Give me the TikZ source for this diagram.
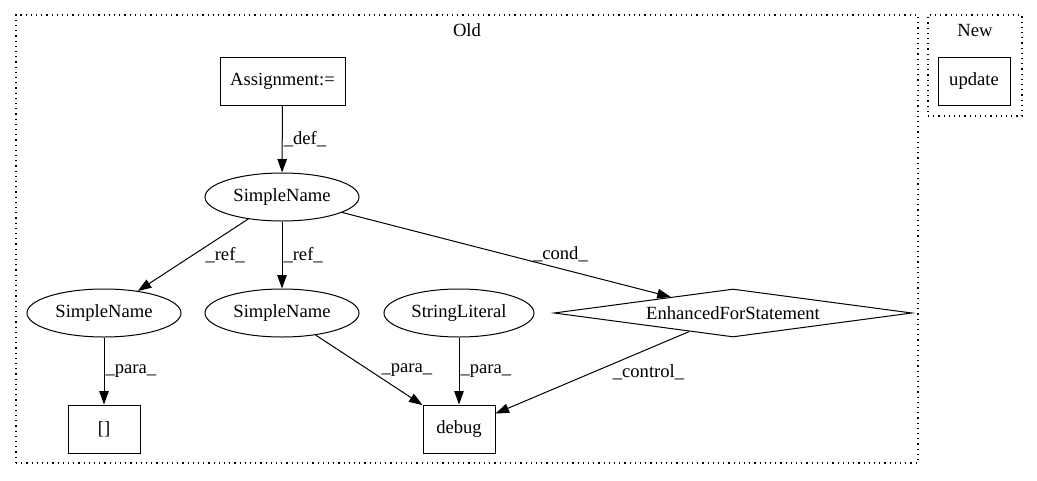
\documentclass[tikz,border=0pt]{standalone}
\usepackage{fontspec}
\setmainfont{Liberation Serif}
\usetikzlibrary{shapes.geometric,arrows.meta}
\begin{document}
\begin{tikzpicture}[x=1pt,y=-1pt,
  every node/.style={font=\fontsize{18.6}{22}\selectfont},
  box/.style={draw,line width=1pt,rectangle,minimum height=48pt,inner sep=0pt},
  ell/.style={draw,line width=1pt,ellipse,minimum width=154pt,minimum height=48pt,inner sep=0pt},
  dia/.style={draw,line width=1pt,diamond,aspect=7.4,minimum width=358pt,minimum height=48pt,inner sep=0pt},
  cluster/.style={draw,line width=1.2pt,dash pattern=on 1.2pt off 4pt,rectangle,inner sep=0pt},
  arr/.style={line width=1pt,-{Triangle[length=13.5pt,width=9.5pt]}},
  lbl/.style={inner sep=1pt}]
\useasboundingbox (0,0) rectangle (1037,480);
% clusters
\node[cluster,minimum width=902pt,minimum height=448pt] (old) at (467,239) {};
\node (oldlbl) at (467,30) {Old};
\node[cluster,minimum width=94pt,minimum height=101pt] (new) at (975,65.5) {};
\node (newlbl) at (975,30) {New};
% nodes
\node[box,minimum width=72pt] (upd) at (974,81) {update};
\node[box,minimum width=125pt] (asg) at (282.5,81) {Assignment:=};
\node[ell] (sn0) at (282,197) {SimpleName};
\node[ell] (sn1) at (104,313) {SimpleName};
\node[ell] (sn2) at (282,313) {SimpleName};
\node[ell,minimum width=150pt] (sl) at (459,313) {StringLiteral};
\node[dia] (efs) at (733,313) {EnhancedForStatement};
\node[box,minimum width=72pt] (brk) at (104,429) {[]};
\node[box,minimum width=72pt] (dbg) at (459,429) {debug};
% edges
\draw[arr] (asg) -- node[lbl,anchor=west] {\_def\_} (sn0);
\draw[arr] (sn0) -- node[lbl,anchor=west,xshift=11pt] {\_ref\_} (sn1);
\draw[arr] (sn0) -- node[lbl,anchor=west] {\_ref\_} (sn2);
\draw[arr] (sn0) -- node[lbl,xshift=54pt] {\_cond\_} (efs);
\draw[arr] (sn1) -- node[lbl,anchor=west] {\_para\_} (brk);
\draw[arr] (sn2) -- node[lbl,anchor=west,xshift=11pt] {\_para\_} (dbg);
\draw[arr] (sl) -- node[lbl,anchor=west] {\_para\_} (dbg);
\draw[arr] (efs) -- node[lbl,anchor=west,xshift=19pt] {\_control\_} (dbg);
\end{tikzpicture}
\end{document}
